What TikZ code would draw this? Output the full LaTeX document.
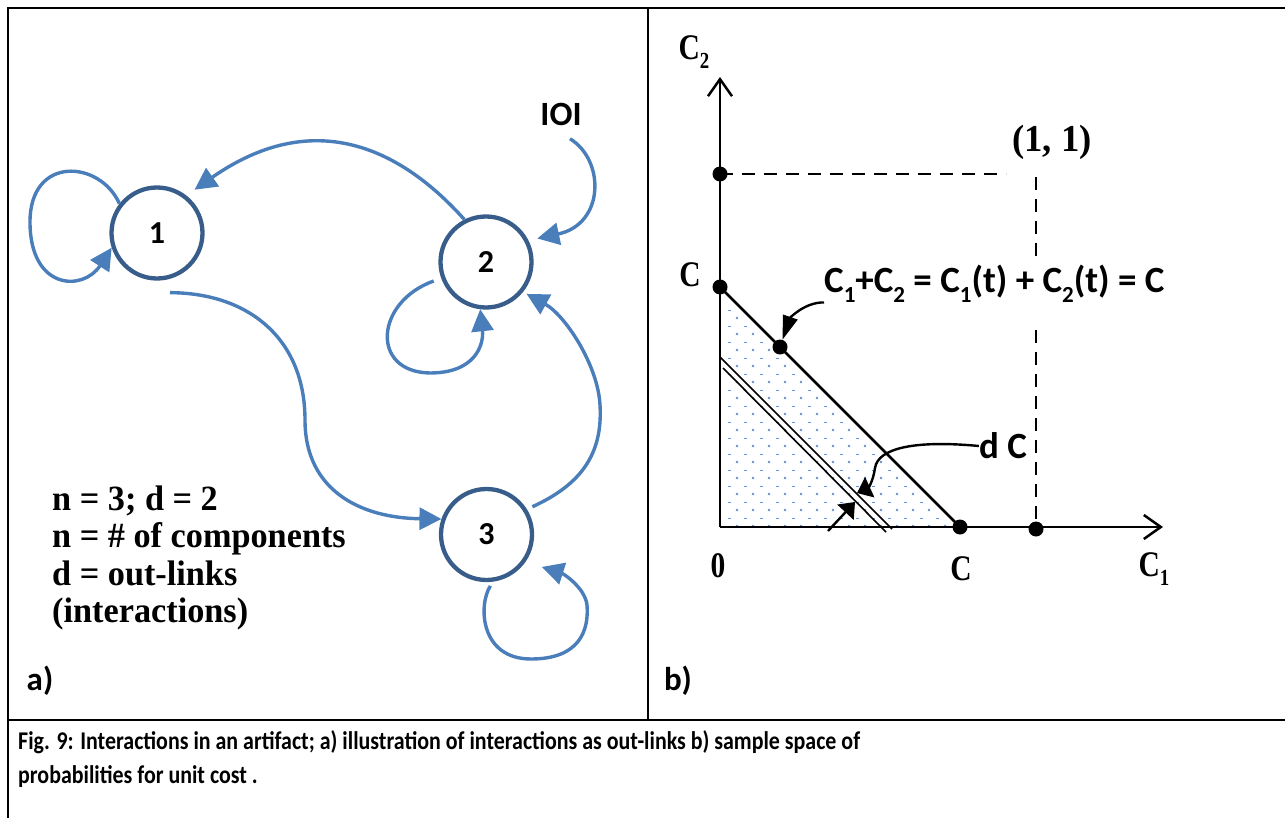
\documentclass[tikz,border=0pt]{standalone}
\usepackage{fontspec}
\setmainfont{Carlito}
\newfontfamily\capfont[FakeStretch=0.86]{Carlito}
\newfontfamily\cambria[FakeStretch=0.965]{Liberation Serif}
\newfontfamily\cambnarrow[FakeStretch=0.82]{Liberation Serif}
\usetikzlibrary{arrows.meta}
\definecolor{linkblue}{HTML}{4A7EBB}
\definecolor{ringblue}{HTML}{385D8A}
\definecolor{dotblue}{HTML}{5F92D6}
\newcommand{\lowidx}[1]{\raisebox{-0.25em}{\fontsize{23}{23}\selectfont #1}}

\begin{document}
\begin{tikzpicture}[x=1pt,y=-1pt,
  comp/.style={circle,draw=ringblue,line width=4.3pt,minimum size=91pt,inner sep=0pt,font=\bfseries\fontsize{32}{32}\selectfont},
  link/.style={linkblue,line width=3.4pt,-{Triangle[length=22pt,width=22pt]}},
  axisline/.style={line width=2.5pt,-{Straight Barb[length=17pt,width=24pt]}},
  guide/.style={line width=2.2pt,dash pattern=on 13pt off 9pt},
  pt/.style={circle,fill=black,inner sep=0pt,minimum size=15pt},
  mlab/.style={font=\cambnarrow\bfseries\fontsize{36}{36}\selectfont,inner sep=0pt},
  clab/.style={font=\bfseries\fontsize{37}{37}\selectfont,inner sep=0pt},
  pointer/.style={line width=2.4pt,-{Triangle[length=24pt,width=15pt]}},
  widepointer/.style={line width=2.4pt,-{Triangle[length=14pt,width=22pt]}}]
\useasboundingbox (0,0) rectangle (1285,818);
\draw[line width=2.5pt] (8,818) -- (8,8) -- (1285,8);
\draw[line width=1.5pt] (648,8) -- (648,720);
\draw[line width=2.5pt] (8,720) -- (1285,720);

\node[comp] (n1) at (157,233) {1};
\node[comp] (n2) at (486,262) {2};
\node[comp] (n3) at (486.5,534.5) {3};
\node[font=\bfseries\fontsize{34}{34}\selectfont] (ioi) at (561,114) {IOI};
\draw[link] (n1.142) .. controls (100,160) and (30,155) .. (30,222) .. controls (30,290) and (83,292) .. (n1.198);
\draw[link,shorten >=10pt] (n2.117) .. controls (420,170) and (330,95) .. (n1.52);
\draw[link,shorten >=9pt] ([xshift=9pt,yshift=-10pt]ioi.south) .. controls (605,160) and (605,224) .. (n2.27);
\draw[link,shorten <=8pt] (n2.200) .. controls (375,302) and (370,372) .. (430,373) .. controls (475,373) and (484,345) .. (n2.263);
\draw[link] ([shift={(13pt,-12pt)}]n1.south) .. controls (250,293) and (305,340) .. (305,420) .. controls (305,490) and (360,518) .. (n3.161);
\draw[link,shorten <=6pt,shorten >=4pt] (n3.32) .. controls (580,485) and (603,455) .. (600,405) .. controls (598,365) and (565,315) .. (n2.321);
\draw[link,shorten <=5pt,shorten >=17pt] (n3.278) .. controls (478,605) and (480,659) .. (531,659) .. controls (580,659) and (589,630) .. (587,605) .. controls (585,588) and (564,574) .. (n3.325);
\foreach \txt [count=\k from 0] in {{n = 3; d = 2},{n = \# of components},{d = out-links},{(interactions)}}
  \node[anchor=base west,inner sep=0pt,font=\cambria\bfseries\fontsize{35.5}{35.5}\selectfont] (info\k) at (52,510+37.5*\k) {\txt};
\node[font=\bfseries\fontsize{33}{33}\selectfont] (pa) at (40,681) {a)};

\begin{scope}
\clip (720,527) -- (960,527) -- (720,287) -- cycle;
\foreach \i in {0,...,15} \foreach \j in {0,...,15} {
  \fill[dotblue] (737+16*\i,526-16*\j) circle (1.3pt);
  \fill[dotblue] (728+16*\i,518-16*\j) rectangle ++(2.5,1.2);
}
\end{scope}
\coordinate (O) at (720,527);
\coordinate (Ctop) at (720,174);
\coordinate (Cy) at (720,287);
\coordinate (Cx) at (960,527);
\coordinate (Cone) at (1036,529);
\coordinate (Cmid) at (780,347);
\draw[axisline] (O) -- (720,77);
\draw[axisline] (O) -- (1163,527);
\draw[guide] (Ctop) -- (1006,174);
\draw[guide] (1036,177) -- (1036,258);
\draw[guide] (1036,330) -- (Cone);
\draw[line width=2.6pt] (Cy) -- (Cx);
\draw[line width=1.6pt] (720,357) -- (892,529);
\draw[line width=1.6pt] (723,368) -- (886,532);
\node[pt] (top) at (Ctop) {};
\node[pt] (cy) at (Cy) {};
\node[pt] (cx) at (Cx) {};
\node[pt] (one) at (Cone) {};
\node[pt] (mid) at (Cmid) {};

\node[mlab] (c2lab) at (694,52) {C\lowidx{2}};
\node[mlab] (cylab) at (690,275) {C};
\node[font=\cambria\bfseries\fontsize{38}{38}\selectfont,inner sep=0pt] (onelab) at (1052,142) {(1, 1)};
\node[mlab] (zero) at (718,566) {0};
\node[mlab] (cxlab) at (961,569) {C};
\node[mlab] (c1lab) at (1154,569) {C\lowidx{1}};
\node[clab,anchor=base west] (eqn) at (824,293) {C\lowidx{1}+C\lowidx{2} = C\lowidx{1}(t) + C\lowidx{2}(t) = C};
\node[clab] (dc) at (1003,446) {d C};
\coordinate (dca) at (857,493);
\coordinate (dcb0) at (828,531);
\coordinate (dcb) at (855,502);
\draw[pointer] (eqn.south west) .. controls (805,302) and (790,318) .. (mid);
\draw[widepointer] (dc.west) .. controls (915,440) and (878,448) .. (875,468) .. controls (873,482) and (868,488) .. (dca);
\draw[widepointer] (dcb0) -- (dcb);
\node[font=\bfseries\fontsize{33}{33}\selectfont] (pb) at (678,681) {b)};

\node[anchor=base west,inner sep=0pt,font=\capfont\bfseries\fontsize{25.5}{25.5}\selectfont] (cap1) at (18,749) {Fig. 9: Interactions in an artifact; a) illustration of interactions as out-links b) sample space of};
\node[anchor=base west,inner sep=0pt,font=\capfont\bfseries\fontsize{25.5}{25.5}\selectfont] (cap2) at (18,783) {probabilities for unit cost .};
\end{tikzpicture}
\end{document}
